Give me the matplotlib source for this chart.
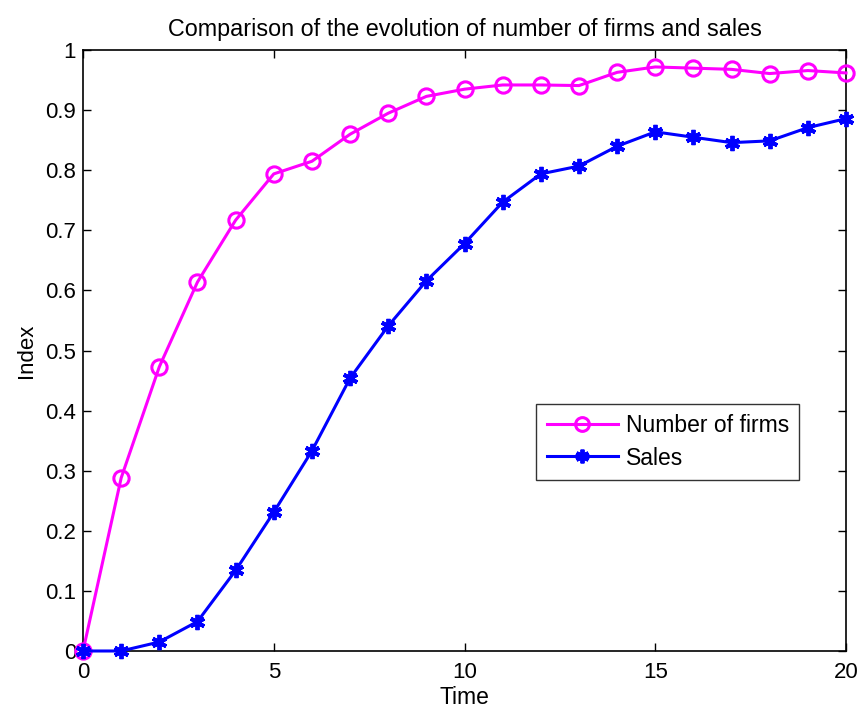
import matplotlib
matplotlib.use("Agg")
import matplotlib.pyplot as plt

# values
time = list(range(21))
firms = [0.0, 0.288, 0.473, 0.614, 0.717, 0.794, 0.815, 0.860, 0.895, 0.923, 0.935,
         0.942, 0.942, 0.941, 0.963, 0.972, 0.970, 0.968, 0.961, 0.966, 0.962]
sales = [0.0, 0.0, 0.015, 0.049, 0.134, 0.231, 0.333, 0.454, 0.541, 0.616, 0.678,
         0.747, 0.794, 0.807, 0.840, 0.864, 0.855, 0.846, 0.849, 0.871, 0.886]
x_ticks = [0, 5, 10, 15, 20]
y_ticks = [0, 0.1, 0.2, 0.3, 0.4, 0.5, 0.6, 0.7, 0.8, 0.9, 1]
y_tick_labels = ["0", "0.1", "0.2", "0.3", "0.4", "0.5", "0.6", "0.7", "0.8", "0.9", "1"]

plt.rcParams['font.family'] = ['Liberation Sans', 'DejaVu Sans']

fig = plt.figure(figsize=(8.63, 7.16), dpi=100)
ax = fig.add_axes([0.0962, 0.0908, 0.8841, 0.8392])

ax.plot(time, firms, color='#ff00ff', linewidth=2.2, marker='o', markersize=11,
        markerfacecolor='none', markeredgewidth=2.2, label="Number of firms", clip_on=False, zorder=3)
ax.plot(time, sales, color='#0000ff', linewidth=2.2, marker=(6, 2, 0), markersize=11,
        markeredgewidth=2.8, label="Sales", clip_on=False, zorder=4)

ax.set_xlim(0, 20)
ax.set_ylim(0, 1)
ax.set_xticks(x_ticks)
ax.set_yticks(y_ticks)
ax.set_yticklabels(y_tick_labels)
ax.tick_params(direction='in', top=True, right=True, labelsize=16, length=6, width=1)
ax.tick_params(axis='x', pad=8)
ax.tick_params(axis='y', pad=5)
for s in ax.spines.values():
    s.set_linewidth(1.2)

ax.set_xlabel("Time", fontsize=16.5, labelpad=2)
ax.set_ylabel("Index", fontsize=16, labelpad=6)
ax.set_title("Comparison of the evolution of number of firms and sales", fontsize=16.8, pad=10)

leg = ax.legend(loc='upper left', bbox_to_anchor=(0.594, 0.411), fontsize=16.5, frameon=True,
                fancybox=False, edgecolor='black', borderpad=0.45, handlelength=3.1,
                handletextpad=0.35, labelspacing=0.4, borderaxespad=0, markerscale=0.9)
leg.get_frame().set_linewidth(1)

fig.savefig("out.png", dpi=100)
